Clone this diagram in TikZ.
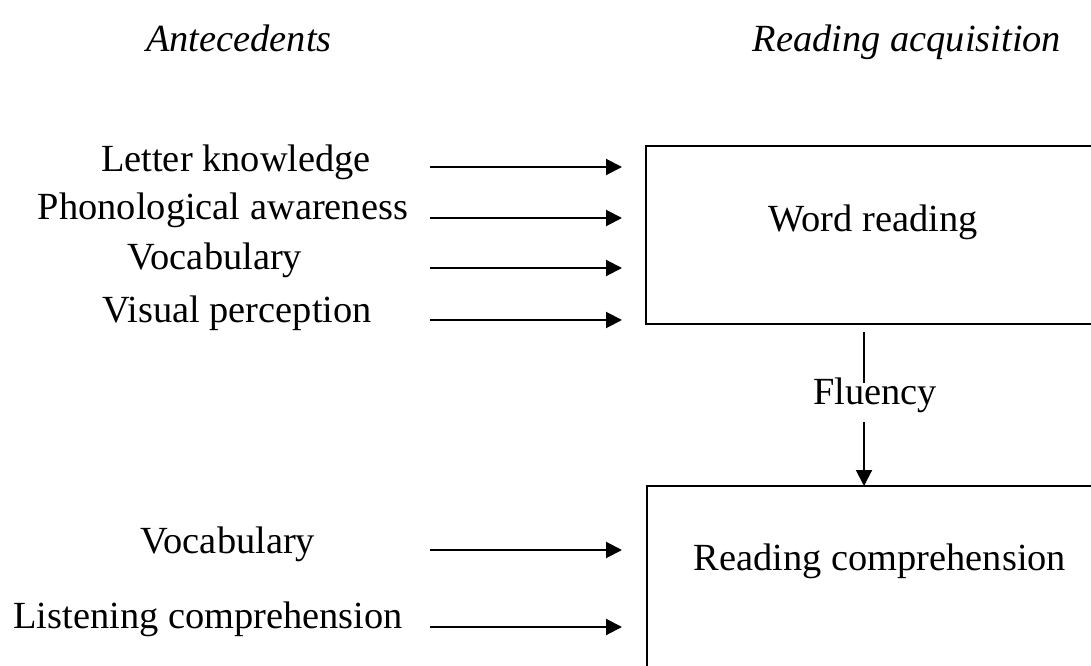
\documentclass[tikz,border=0pt]{standalone}
\usepackage{fontspec}
\setmainfont{Liberation Serif}
\usepackage{tikz}
\usetikzlibrary{arrows.meta,positioning}

\begin{document}
\begin{tikzpicture}[x=0.75pt,y=-0.75pt,
  lbl/.style={anchor=base,inner sep=0pt,font=\fontsize{28.8}{34}\selectfont},
  head/.style={lbl,font=\fontsize{28.8}{34}\selectfont\itshape},
  feed/.style={line width=1.5pt,-{Triangle[length=12pt,width=12pt]}},
  frame/.style={line width=1.5pt}]
\useasboundingbox (0,0) rectangle (1091,666);

% Column headings
\node[head] (ante) at (239,52) {Antecedents};
\node[head] (acq) at (907,52) {Reading acquisition};

% Word reading
\draw[frame] (1100,146) -- (646,146) -- (646,324) -- (1100,324);
\node[lbl] (wr) at (873,232) {Word reading};
\foreach \n/\x/\y/\t in {lk/236/172/Letter knowledge,pa/223/220/Phonological awareness,
    vo/215/270/Vocabulary,vp/237/323/Visual perception}
  \node[lbl] (\n) at (\x,\y) {\t};
\foreach \n/\y in {lk/167,pa/218,vo/268,vp/320} {
  \coordinate (\n-s) at (430,\y);
  \coordinate (\n-e) at (622,\y);
  \draw[feed] (\n-s) -- (\n-e);
}

% Fluency
\node[lbl] (fl) at (875,404) {Fluency};
\coordinate (fl-a) at (864,332);
\coordinate (fl-b) at (864,383);
\coordinate (fl-c) at (864,422);
\coordinate (fl-d) at (864,486);
\draw[line width=1.5pt] (fl-a) -- (fl-b);
\draw[feed] (fl-c) -- (fl-d);

% Reading comprehension
\draw[frame] (1100,486) -- (647,486) -- (647,700);
\node[lbl] (rc) at (880,570) {Reading comprehension};
\foreach \n/\x/\y/\t in {vb/228/553/Vocabulary,lc/208/628/Listening comprehension}
  \node[lbl] (\n) at (\x,\y) {\t};
\foreach \n/\y in {vb/550,lc/627} {
  \coordinate (\n-s) at (430,\y);
  \coordinate (\n-e) at (622,\y);
  \draw[feed] (\n-s) -- (\n-e);
}
\end{tikzpicture}
\end{document}
